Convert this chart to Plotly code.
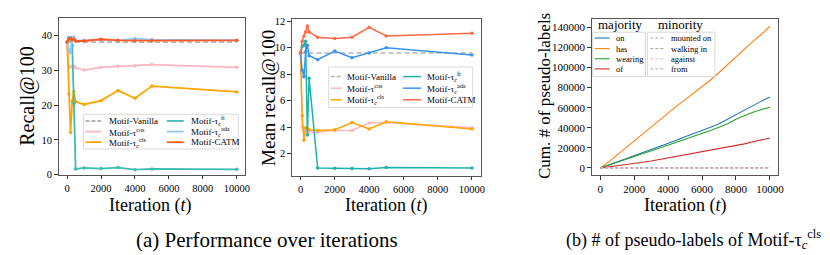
import plotly.graph_objects as go

W, H = 830, 255
FONT = "Liberation Serif, Times New Roman, Times, serif"

# ---------------- data ----------------
iters = [0, 100, 200, 300, 400, 500, 1000, 2000, 3000, 4000, 5000, 10000]

# (a) Recall@100
rec_vanilla = [38.2, 38.2, 38.2, 38.2, 38.2, 38.2, 38.2, 38.2, 38.2, 38.2, 38.2, 38.2]
rec_cos = [38.2, 31.0, 31.0, 31.2, 31.2, 30.8, 30.1, 30.9, 31.2, 31.3, 31.7, 30.9]
rec_cls = [38.2, 23.2, 12.1, 21.1, 23.9, 21.0, 20.2, 21.3, 24.2, 22.0, 25.5, 23.8]
rec_ft = [38.2, 39.4, 39.4, 37.2, 20.5, 1.6, 1.9, 1.7, 2.0, 1.4, 1.6, 1.5]
rec_ada = [38.2, 35.9, 35.1, 39.5, 39.6, 38.6, 38.7, 38.9, 38.7, 39.2, 38.9, 38.7]
rec_catm = [38.2, 39.0, 39.3, 38.8, 39.0, 38.5, 38.5, 39.0, 38.7, 38.6, 38.6, 38.7]

# (a) Mean recall@100
mr_vanilla = [9.6, 9.6, 9.6, 9.6, 9.6, 9.6, 9.6, 9.6, 9.6, 9.6, 9.6, 9.6]
mr_cos = [9.6, 4.0, 3.7, 3.8, 3.7, 3.6, 3.6, 3.75, 3.75, 4.3, 4.35, 3.95]
mr_cls = [9.6, 4.85, 3.0, 3.95, 3.9, 3.8, 3.75, 3.8, 4.35, 3.85, 4.4, 3.85]
mr_ft = [9.6, 10.1, 10.2, 10.5, 3.4, 7.7, 0.9, 0.88, 0.87, 0.85, 0.95, 0.9]
mr_ada = [9.6, 8.3, 7.8, 9.7, 10.2, 9.4, 9.1, 9.75, 9.25, 9.6, 10.0, 9.45]
mr_catm = [9.6, 10.5, 10.9, 11.2, 11.65, 11.2, 10.8, 10.7, 10.8, 11.55, 10.9, 11.1]

# (b) cumulative # of pseudo-labels
iters_b = [0, 500, 1000, 1500, 2000, 2500, 3000, 3500, 4000, 4500, 5000,
           5500, 6000, 6500, 7000, 7500, 8000, 8500, 9000, 9500, 10000]
pl_on = [0, 3000, 6000, 8800, 11800, 15000, 18500, 21500, 24500, 27500, 31000,
         34000, 37000, 40500, 44000, 48500, 53000, 57500, 62500, 66500, 70500]
pl_has = [0, 6000, 13000, 20000, 27000, 33500, 40500, 47500, 54500, 61500, 68000,
          74500, 80500, 87500, 95000, 103000, 111000, 118500, 126000, 133000, 141000]
pl_wearing = [0, 2800, 5500, 8200, 10800, 13700, 16600, 19700, 22800, 25500, 28500,
              31300, 34000, 37200, 40500, 44000, 48400, 52000, 55500, 58200, 60500]
pl_of = [0, 1000, 2000, 3200, 4500, 5700, 7000, 8500, 10000, 11500, 13000,
         14700, 16300, 17500, 18800, 20300, 22000, 24000, 26000, 27800, 29800]
pl_mounted = [0, 5, 10, 15, 20, 25, 30, 35, 40, 45, 50, 55, 60, 65, 70, 75, 80, 85, 90, 95, 100]
pl_walking = [0, 3, 6, 9, 12, 15, 18, 21, 24, 27, 30, 33, 36, 39, 42, 45, 48, 51, 54, 57, 60]
pl_against = [0, 4, 8, 12, 16, 20, 24, 28, 32, 36, 40, 44, 48, 52, 56, 60, 64, 68, 72, 76, 80]
pl_from = [0, 6, 12, 18, 24, 30, 36, 42, 48, 54, 60, 66, 72, 78, 84, 90, 96, 102, 108, 114, 120]

# tick labels
x_ticks = [0, 2000, 4000, 6000, 8000, 10000]
x_ticktext = ["0", "2000", "4000", "6000", "8000", "10000"]
y1_ticks = [0, 10, 20, 30, 40]
y2_ticks = [2, 4, 6, 8, 10, 12]
y3_ticks = [0, 20000, 40000, 60000, 80000, 100000, 120000, 140000]
y3_ticktext = ["0", "20000", "40000", "60000", "80000", "100000", "120000", "140000"]

# legend labels
lab_a = ["Motif-Vanilla", "Motif-τ<sup>cos</sup>", "Motif-τ<sub><i>c</i></sub><sup>cls</sup>",
         "Motif-τ<sub><i>c</i></sub><sup>ft</sup>", "Motif-τ<sub><i>c</i></sub><sup>ada</sup>", "Motif-CATM"]
maj_labels = ["on", "has", "wearing", "of"]
min_labels = ["mounted on", "walking in", "against", "from"]

# ---------------- styles ----------------
col_a1 = ["#b5b5b5", "#ffb6c1", "#ffa500", "#3dbdb2", "#8fc8f5", "#ff5a26"]
col_a2 = ["#b5b5b5", "#ffb6c1", "#ffa500", "#20b2aa", "#3a93ee", "#ff6a45"]
col_maj = ["#1f77b4", "#ff7f0e", "#2ca02c", "#d62728"]
col_min = ["#b99ad6", "#b89a90", "#eeaad8", "#b0b0b0"]

fig = go.Figure()

def px(x, y):
    return x / W, 1 - y / H

X1 = [51 / W, 239 / W]; Y1 = [1 - 169.5 / H, 1 - 7 / H]
X2 = [286 / W, 476 / W]; Y2 = [1 - 171 / H, 1 - 8 / H]
X3 = [588 / W, 776 / W]; Y3 = [1 - 170 / H, 1 - 8 / H]

series1 = [rec_vanilla, rec_cos, rec_cls, rec_ft, rec_ada, rec_catm]
series2 = [mr_vanilla, mr_cos, mr_cls, mr_ft, mr_ada, mr_catm]

for i, (ys, lab) in enumerate(zip(series1, lab_a)):
    dash = "5px,3px" if i == 0 else "solid"
    mode = "lines" if i == 0 else "lines+markers"
    fig.add_trace(go.Scatter(x=iters, y=ys, mode=mode, name=lab, xaxis="x", yaxis="y",
                             line=dict(color=col_a1[i], width=1.8, dash=dash),
                             marker=dict(size=3.5, color=col_a1[i]), showlegend=False))
for i, (ys, lab) in enumerate(zip(series2, lab_a)):
    dash = "5px,3px" if i == 0 else "solid"
    mode = "lines" if i == 0 else "lines+markers"
    fig.add_trace(go.Scatter(x=iters, y=ys, mode=mode, name=lab, xaxis="x2", yaxis="y2",
                             line=dict(color=col_a2[i], width=1.5, dash=dash),
                             marker=dict(size=3.5, color=col_a2[i]), showlegend=False))
for ys, lab, c in zip([pl_on, pl_has, pl_wearing, pl_of], maj_labels, col_maj):
    fig.add_trace(go.Scatter(x=iters_b, y=ys, mode="lines", name=lab, xaxis="x3", yaxis="y3",
                             line=dict(color=c, width=1.1), showlegend=False))
for ys, lab, c in zip([pl_mounted, pl_walking, pl_against, pl_from], min_labels, col_min):
    fig.add_trace(go.Scatter(x=iters_b, y=ys, mode="lines", name=lab, xaxis="x3", yaxis="y3",
                             line=dict(color=c, width=1.0, dash="3px,2px"), showlegend=False))

def axis(size, **kw):
    d = dict(showline=True, mirror=True, linecolor="#555", linewidth=1,
             ticks="outside", ticklen=3.5, tickwidth=0.8, tickcolor="#333",
             showgrid=False, zeroline=False,
             tickfont=dict(family=FONT, size=size, color="black"))
    d.update(kw)
    return d

xt = dict(tickvals=x_ticks, ticktext=x_ticktext, range=[-500, 10500])

fig.update_layout(
    width=W, height=H, margin=dict(l=0, r=0, t=0, b=0),
    paper_bgcolor="white", plot_bgcolor="white",
    font=dict(family=FONT, color="black"),
    xaxis=axis(10.5, domain=X1, anchor="y", **xt),
    yaxis=axis(10.5, domain=Y1, anchor="x", range=[0, 45.2], tickvals=y1_ticks),
    xaxis2=axis(10.5, domain=X2, anchor="y2", **xt),
    yaxis2=axis(10.5, domain=Y2, anchor="x2", range=[0.3, 12.2], tickvals=y2_ticks),
    xaxis3=axis(11, domain=X3, anchor="y3", **xt),
    yaxis3=axis(11, domain=Y3, anchor="x3", range=[-7000, 148500],
                tickvals=y3_ticks, ticktext=y3_ticktext),
)

shapes = []
anns = []

def text(x, y, s, size, angle=0, anchor="center"):
    xp, yp = px(x, y)
    anns.append(dict(x=xp, y=yp, xref="paper", yref="paper", text=s, showarrow=False,
                     xanchor=anchor, yanchor="middle", textangle=angle,
                     font=dict(family=FONT, size=size, color="black")))

def box(x0, y0, x1, y1):
    a0, b0 = px(x0, y0); a1, b1 = px(x1, y1)
    shapes.append(dict(type="rect", xref="paper", yref="paper", x0=a0, y0=b1, x1=a1, y1=b0,
                       line=dict(color="#d9d9d9", width=1), fillcolor="rgba(255,255,255,0.85)"))

def sample(x0, x1, y, color, width, dash="solid"):
    a0, b = px(x0, y); a1, _ = px(x1, y)
    shapes.append(dict(type="line", xref="paper", yref="paper", x0=a0, x1=a1, y0=b, y1=b,
                       line=dict(color=color, width=width, dash=dash)))

# axis titles
text(143, 202, "Iteration (<i>t</i>)", 18)
text(381, 202, "Iteration (<i>t</i>)", 18)
text(682, 202, "Iteration (<i>t</i>)", 18)
text(20, 88, "Recall@100", 20, angle=-90)
text(263, 90, "Mean recall@100", 19, angle=-90)
text(541, 88, "Cum. # of pseudo-labels", 17, angle=-90)
# captions
text(261, 237, "(a) Performance over iterations", 21)
text(690, 237, "(b) # of pseudo-labels of Motif-τ<sub><i>c</i></sub><sup>cls</sup>", 18)

# legend panel 1
box(76, 107, 232, 143)
rows1 = [114, 125, 136]
for i in range(6):
    col = i // 3
    r = rows1[i % 3]
    lx0, lx1, tx = (78, 94, 100) if col == 0 else (160, 177, 182)
    sample(lx0, lx1, r, col_a1[i], 1.8, "4px,2px" if i == 0 else "solid")
    text(tx, r, lab_a[i], 9, anchor="left")

# legend panel 2
box(323, 58, 468, 100)
rows2 = [68, 80, 92]
for i in range(6):
    col = i // 3
    r = rows2[i % 3]
    lx0, lx1, tx = (325, 336, 339) if col == 0 else (398, 416, 420)
    sample(lx0, lx1, r, col_a2[i], 1.5, "4px,2px" if i == 0 else "solid")
    text(tx, r, lab_a[i], 9, anchor="left")

# legends panel 3
text(617, 14, "majority", 13)
text(677, 14, "minority", 13)
box(589, 22, 642, 68)
box(644, 22, 712, 68)
rows3 = [28, 39, 49.5, 60]
for i in range(4):
    sample(591, 606, rows3[i], col_maj[i], 1.1)
    text(610, rows3[i], maj_labels[i], 8.5, anchor="left")
    sample(647, 662, rows3[i], col_min[i], 1.0, "3px,2px")
    text(666, rows3[i], min_labels[i], 8.5, anchor="left")

fig.update_layout(shapes=shapes, annotations=anns)
fig.write_html("out.html")
